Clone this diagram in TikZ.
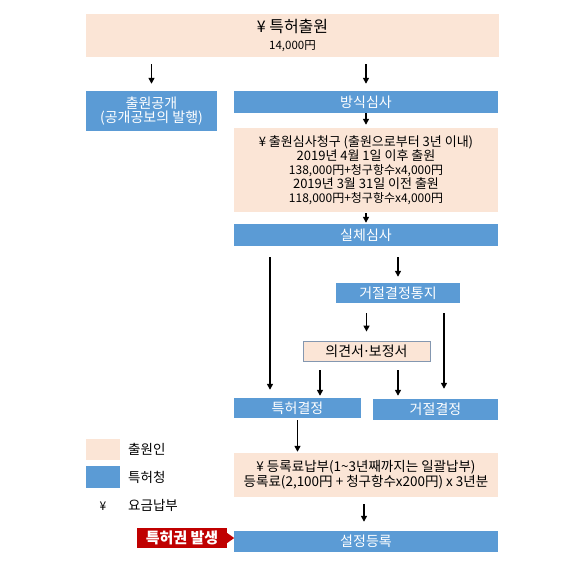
\documentclass[tikz,border=0pt]{standalone}
\usepackage{fontspec}
\setmainfont{Noto Sans CJK KR}
\usetikzlibrary{arrows.meta,calc}
\definecolor{peach}{HTML}{FBE5D6}
\definecolor{kblue}{HTML}{5B9BD5}
\definecolor{kred}{HTML}{C00000}
\definecolor{opborder}{HTML}{8497B0}
\newcommand{\fsz}[2]{\fontsize{#1}{#2}\selectfont}
\begin{document}
\begin{tikzpicture}[x=1pt,y=-1pt,
  bluebox/.style={fill=kblue, text=white, inner sep=0pt, align=center, font=\fsz{14}{14}},
  peachbox/.style={fill=peach, text=black, inner sep=0pt, align=center, font=\fsz{13}{14}},
  arr/.style={line width=1.4pt, -{Triangle[length=6pt,width=6pt]}},
  legtext/.style={anchor=west, inner sep=0pt, font=\fsz{13.5}{14}}
]
\useasboundingbox (0,0) rectangle (571,567);

% nodes
\node[peachbox, minimum width=413pt, minimum height=43pt, font=\fsz{16}{17}] (top) at (292.5,35.5)
  {¥ 특허출원\\{\fsz{11.5}{17}14,000円}};
\node[bluebox, minimum width=131pt, minimum height=40pt] (pub) at (151.5,111)
  {출원공개\\(공개공보의 발행)};
\node[bluebox, minimum width=264pt, minimum height=22pt] (fang) at (366,102) {방식심사};
\node[peachbox, minimum width=264pt, minimum height=84pt] (req) at (366,170)
  {¥ 출원심사청구 (출원으로부터 3년 이내)\\
   2019년 4월 1일 이후 출원\\
   {\fsz{12}{14}138,000円+청구항수x4,000円}\\
   2019년 3월 31일 이전 출원\\
   {\fsz{12}{14}118,000円+청구항수x4,000円}};
\node[bluebox, minimum width=264pt, minimum height=22pt] (sil) at (366,235) {실체심사};
\node[bluebox, minimum width=124pt, minimum height=20pt] (rejn) at (398,293) {거절결정통지};
\node[peachbox, draw=opborder, line width=0.8pt, minimum width=127pt, minimum height=20pt, font=\fsz{14}{14}] (op) at (366.5,351) {의견서\kern-1.5pt·\kern-1.5pt보정서};
\node[bluebox, minimum width=127pt, minimum height=20pt] (grant) at (297.5,408) {특허결정};
\node[bluebox, minimum width=125pt, minimum height=21pt] (rej) at (435.5,409.5) {거절결정};
\node[peachbox, minimum width=264pt, minimum height=44pt, font=\fsz{13.5}{15}] (fee) at (366,475)
  {¥ 등록료납부(1\textasciitilde 3년째까지는 일괄납부)\\
   등록료(2,100円 + 청구항수x200円) x 3년분};
\node[bluebox, minimum width=264pt, minimum height=21pt] (reg) at (366,541.5) {설정등록};
\node[fill=kred, text=white, inner sep=0pt, minimum width=90pt, minimum height=20pt, font=\fsz{15}{15}\bfseries] (gen) at (182,538) {특허권 발생};
\fill[kred] ($(gen.east)+(0,-5)$) -- ($(gen.east)+(7,0)$) -- ($(gen.east)+(0,5)$) -- cycle;

% legend
\node[fill=peach, minimum width=34pt, minimum height=21pt, inner sep=0pt] (lp) at (103,449.5) {};
\node[fill=kblue, minimum width=34pt, minimum height=22pt, inner sep=0pt] (lb) at (103,477) {};
\node[inner sep=0pt, font=\fsz{12}{12}] (ly) at (103,506) {¥};
\node[legtext] (lpt) at (128,449) {출원인};
\node[legtext] (lbt) at (128,477) {특허청};
\node[legtext] (lyt) at (128,505) {요금납부};

% connectors
\draw[arr, shorten <=7pt, shorten >=7pt] (top.south -| pub.north) -- (pub.north);
\draw[arr, shorten <=7pt, shorten >=7pt] (top.south -| fang.north) -- (fang.north);
\draw[arr, shorten >=3pt] (fang.south) -- (req.north);
\draw[arr, shorten <=1pt, shorten >=1pt] (req.south) -- (sil.north);
\draw[arr, shorten <=11pt, shorten >=8pt] ([xshift=-27.5pt]grant.north |- sil.south) -- ([xshift=-27.5pt]grant.north);
\draw[arr, shorten <=11pt, shorten >=6pt] (rejn.north |- sil.south) -- (rejn.north);
\draw[arr, shorten <=10pt, shorten >=9pt] (op.north |- rejn.south) -- (op.north);
\draw[arr, shorten <=10pt, shorten >=10pt] ([xshift=8.5pt]rej.north |- rejn.south) -- ([xshift=8.5pt]rej.north);
\draw[arr, shorten <=9pt, shorten >=2pt] ([xshift=22.5pt]grant.north |- op.south) -- ([xshift=22.5pt]grant.north);
\draw[arr, shorten <=9pt, shorten >=3pt] ([xshift=-37.5pt]rej.north |- op.south) -- ([xshift=-37.5pt]rej.north);
\draw[arr, shorten <=2pt, shorten >=1pt] (grant.south) -- (grant.south |- fee.north);
\draw[arr, shorten <=7pt, shorten >=9pt] ([xshift=-2pt]reg.north |- fee.south) -- ([xshift=-2pt]reg.north);
\end{tikzpicture}
\end{document}
